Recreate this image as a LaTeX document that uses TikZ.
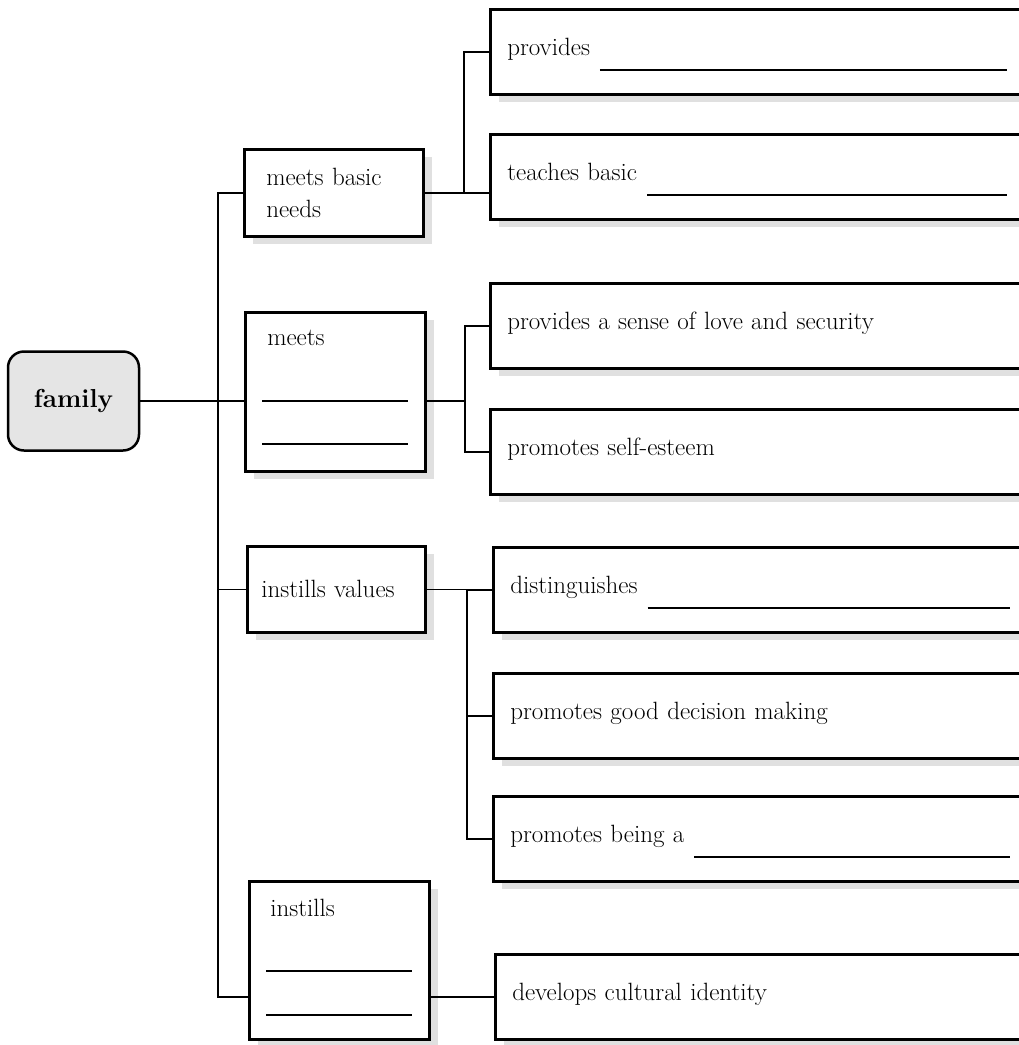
\documentclass[tikz,border=0pt]{standalone}
\usetikzlibrary{shadows,calc}
\newcommand\blank{\hskip10pt\leaders\hrule height -13pt depth 15pt\hfill\kern0pt}
\begin{document}
\begin{tikzpicture}[x=1pt,y=-1pt,every node/.style={font=\fontsize{25}{32}\selectfont}]
\tikzstyle{root} = [draw,line width=2.5pt,rounded corners=16pt,fill=black!10,minimum width=131pt,minimum height=99pt,font=\fontsize{26}{32}\selectfont\bfseries]
\tikzstyle{needbox} = [draw,fill=white,line width=2.5pt,anchor=north west,align=left,drop shadow={shadow xshift=9pt,shadow yshift=-8pt,fill=black!12,opacity=1}]
\tikzstyle{leafbox} = [needbox,text width=500pt,inner xsep=17pt,minimum height=85pt,text height=16pt,text depth=8pt]
\tikzstyle{link} = [line width=1.5pt]
\useasboundingbox (0,0) rectangle (1019,1045);

\node [root] (family) at (73.5,401) {family};

\node [needbox,text width=135pt,inner xsep=22pt,minimum height=87pt,text height=17pt,text depth=32pt] (basic) at (243,148) {meets basic\\needs};
\node [needbox,text width=146pt,inner xsep=17pt,minimum height=159pt,text height=16pt,text depth=109pt] (meets) at (244,311) {\hspace*{5pt}meets\\[25pt]\rule{146pt}{2pt}\\[11pt]\rule{146pt}{2pt}};
\node [needbox,text width=150pt,inner xsep=14pt,minimum height=86pt] (values) at (246,545) {instills values};
\node [needbox,text width=146pt,inner xsep=17pt,minimum height=158pt,text height=16pt,text depth=104pt] (instills) at (248,880) {\hspace*{4pt}instills\\[24pt]\rule{146pt}{2pt}\\[12pt]\rule{146pt}{2pt}};

\node [leafbox] (provides) at (489,8) {provides\blank};
\node [leafbox] (teaches) at (489,133) {teaches basic\blank};
\node [leafbox] (love) at (489,282) {provides a sense of love and security};
\node [leafbox] (esteem) at (489,408) {promotes self-esteem};
\node [leafbox] (dist) at (492,546) {distinguishes\blank};
\node [leafbox] (good) at (492,672) {promotes good decision making};
\node [leafbox] (being) at (492,795) {promotes being a\blank};
\node [leafbox] (culture) at (494,953) {develops cultural identity};

% trunk
\draw [link] (basic.west) -- ++(-25,0) coordinate (trunk) |- (culture.west -| instills.west);
\draw [link] (family.east) -- (family.east -| meets.west);
\draw [link] (values.west) -- (values.west -| trunk);

% branches
\draw [link] (provides.west) -- ++(-25,0) coordinate (j1) |- (basic.east);
\draw [link] (basic.east) -- (basic.east -| teaches.west);
\draw [link] (love.west) -- ++(-24,0) coordinate (j2) |- (esteem.west);
\draw [link] (family.east -| meets.east) -- (family.east -| j2);
\draw [link] (dist.west) -- ++(-25,0) coordinate (j3) |- (being.west);
\draw [link] (values.east) -- (values.east -| j3);
\draw [link] (good.west) -- (good.west -| j3);
\draw [link] (culture.west -| instills.east) -- (culture.west);
\end{tikzpicture}
\end{document}
